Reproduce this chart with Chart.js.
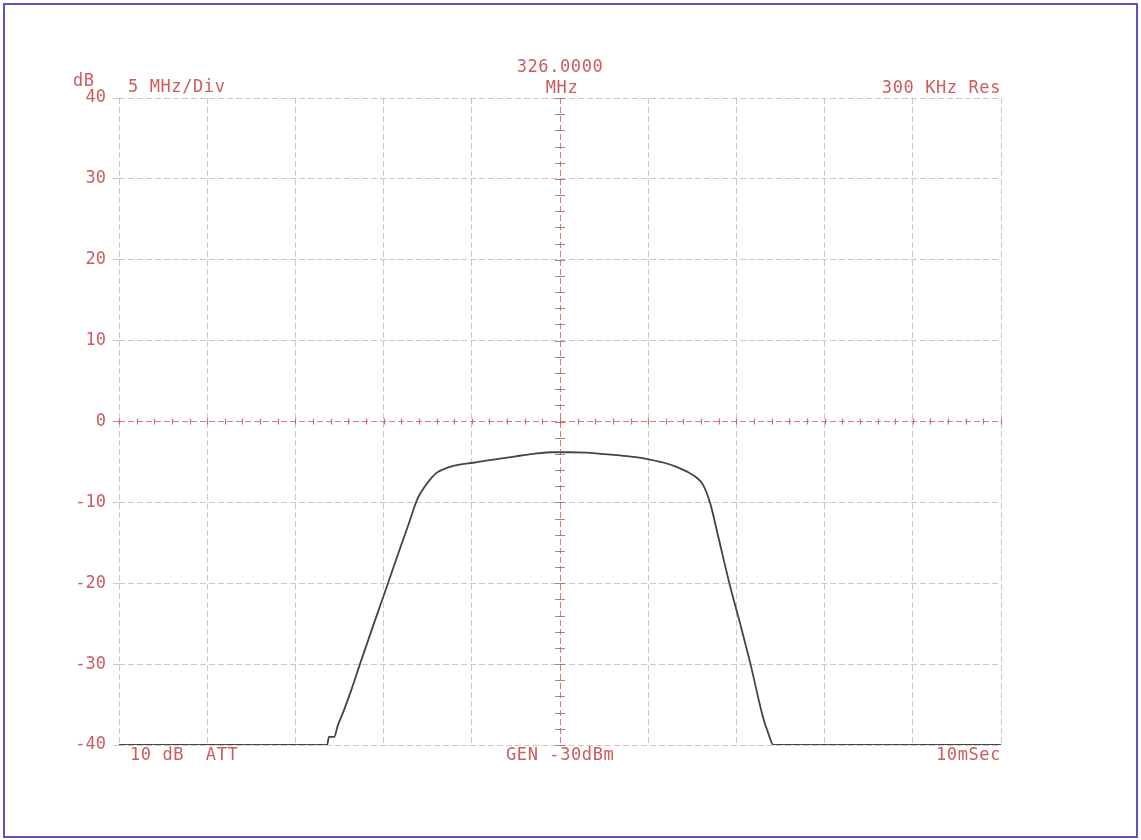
<!DOCTYPE html>
<html>
<head>
<meta charset="utf-8">
<script src="https://cdn.jsdelivr.net/npm/chart.js@4.4.1/dist/chart.umd.min.js"></script>
<style>
  html, body { margin: 0; padding: 0; background: #fff; }
</style>
</head>
<body>
<canvas id="sweep" width="1141" height="840"></canvas>
<script>
// trace (MHz / dB)
const freqMHz = [
  301, 306, 311, 312.8, 312.9, 313.2, 313.4, 313.7, 314.2, 314.66,
  315.4, 316.2, 316.93, 317.4, 317.84, 318.05, 318.35, 318.7, 319.0, 319.4,
  319.76, 320.4, 321.07, 321.8, 322.6, 323.5, 324.5, 325.6, 326.5, 327.5,
  328.3, 329.4, 330.3, 331.1, 331.9, 332.6, 333.2, 333.75, 334.1, 334.5,
  335.0, 335.6, 336.2, 336.8, 337.5, 337.8, 338.1, 341, 346, 351,
];
const levelDb = [
  -40, -40, -40, -40, -39, -39, -37.6, -36, -33, -30,
  -25.3, -20.3, -15.7, -12.8, -10, -9.0, -8.0, -7.0, -6.35, -5.9,
  -5.6, -5.3, -5.1, -4.85, -4.6, -4.3, -4.0, -3.8, -3.8, -3.85,
  -4.0, -4.2, -4.4, -4.7, -5.1, -5.6, -6.2, -6.95, -7.8, -10,
  -14.5, -20, -24.9, -30, -36.5, -38.5, -40, -40, -40, -40,
];
const dbTickValues = [-40, -30, -20, -10, 0, 10, 20, 30, 40];
const centerMHz = 326;
const spanPerDiv = 5;

const red = "#cc5c5e";
const gridColor = "rgba(175, 150, 150, 0.55)";
const plotFont = "'DejaVu Sans Mono', monospace";

const sheetNotes = [
  { text: "dB", x: 73, y: 86, align: "left" },
  { text: "5 MHz/Div", x: 128, y: 92, align: "left" },
  { text: "326.0000", x: 560, y: 72, align: "center" },
  { text: "MHz", x: 562, y: 93, align: "center" },
  { text: "300 KHz Res", x: 1001, y: 93, align: "right" },
  { text: "10 dB  ATT", x: 130, y: 760, align: "left" },
  { text: "GEN -30dBm", x: 506, y: 760, align: "left" },
  { text: "10mSec", x: 1001, y: 760, align: "right" },
];

const plotterMarks = {
  id: "plotterMarks",
  beforeDraw(chart) {
    const c = chart.ctx;
    c.save();
    c.fillStyle = "#fff";
    c.fillRect(0, 0, chart.width, chart.height);
    c.strokeStyle = "#5656c8";
    c.lineWidth = 2;
    c.strokeRect(4, 4, 1133, 833);
    c.restore();
  },
  beforeDatasetsDraw(chart) {
    const c = chart.ctx;
    const x = chart.scales.x;
    const y = chart.scales.y;
    const x0 = x.getPixelForValue(centerMHz);
    const y0 = y.getPixelForValue(0);
    c.save();
    c.strokeStyle = "rgba(200, 80, 80, 0.8)";
    c.lineWidth = 1.2;
    c.beginPath();
    // 2 dB marks on the centre line
    for (let db = y.min; db <= y.max; db += 2) {
      const py = Math.round(y.getPixelForValue(db)) + 0.5;
      c.moveTo(x0 - 5, py);
      c.lineTo(x0 + 5, py);
    }
    // 1 MHz marks on the 0 dB line
    for (let f = x.min; f <= x.max; f += 1) {
      const px = Math.round(x.getPixelForValue(f)) + 0.5;
      c.moveTo(px, y0 - 3);
      c.lineTo(px, y0 + 3);
    }
    c.stroke();
    c.restore();
  },
  afterDraw(chart) {
    const c = chart.ctx;
    c.save();
    c.fillStyle = red;
    c.font = `17px ${plotFont}`;
    c.letterSpacing = "0.6px";
    c.textBaseline = "alphabetic";
    for (const note of sheetNotes) {
      c.textAlign = note.align;
      c.fillText(note.text, note.x, note.y);
    }
    c.restore();
  },
};

const lineColor = (value, center) =>
  value === center ? "rgba(200, 80, 80, 0.75)" : gridColor;

new Chart(document.getElementById("sweep"), {
  type: "line",
  data: {
    datasets: [
      {
        data: freqMHz.map((f, i) => ({ x: f, y: levelDb[i] })),
        borderColor: "#444",
        borderWidth: 1.8,
        pointRadius: 0,
        cubicInterpolationMode: "monotone",
      },
    ],
  },
  options: {
    responsive: false,
    animation: false,
    layout: { padding: { top: 98, right: 140, left: 0, bottom: 0 } },
    plugins: { legend: { display: false }, tooltip: { enabled: false } },
    scales: {
      x: {
        type: "linear",
        min: centerMHz - 5 * spanPerDiv,
        max: centerMHz + 5 * spanPerDiv,
        ticks: { display: false, stepSize: spanPerDiv },
        grid: {
          drawTicks: false,
          color: (ctx) => lineColor(ctx.tick && ctx.tick.value, centerMHz),
        },
        border: { display: false, dash: [6, 3] },
        afterFit: (scale) => {
          scale.height = 95;
        },
      },
      y: {
        min: -40,
        max: 40,
        afterBuildTicks: (scale) => {
          scale.ticks = dbTickValues.map((v) => ({ value: v }));
        },
        ticks: {
          color: red,
          font: { family: plotFont, size: 17 },
          padding: 7,
        },
        grid: {
          tickLength: 6,
          color: (ctx) => lineColor(ctx.tick && ctx.tick.value, 0),
        },
        border: { display: false, dash: [6, 3] },
        afterFit: (scale) => {
          scale.width = 119;
        },
      },
    },
  },
  plugins: [plotterMarks],
});
</script>
</body>
</html>
